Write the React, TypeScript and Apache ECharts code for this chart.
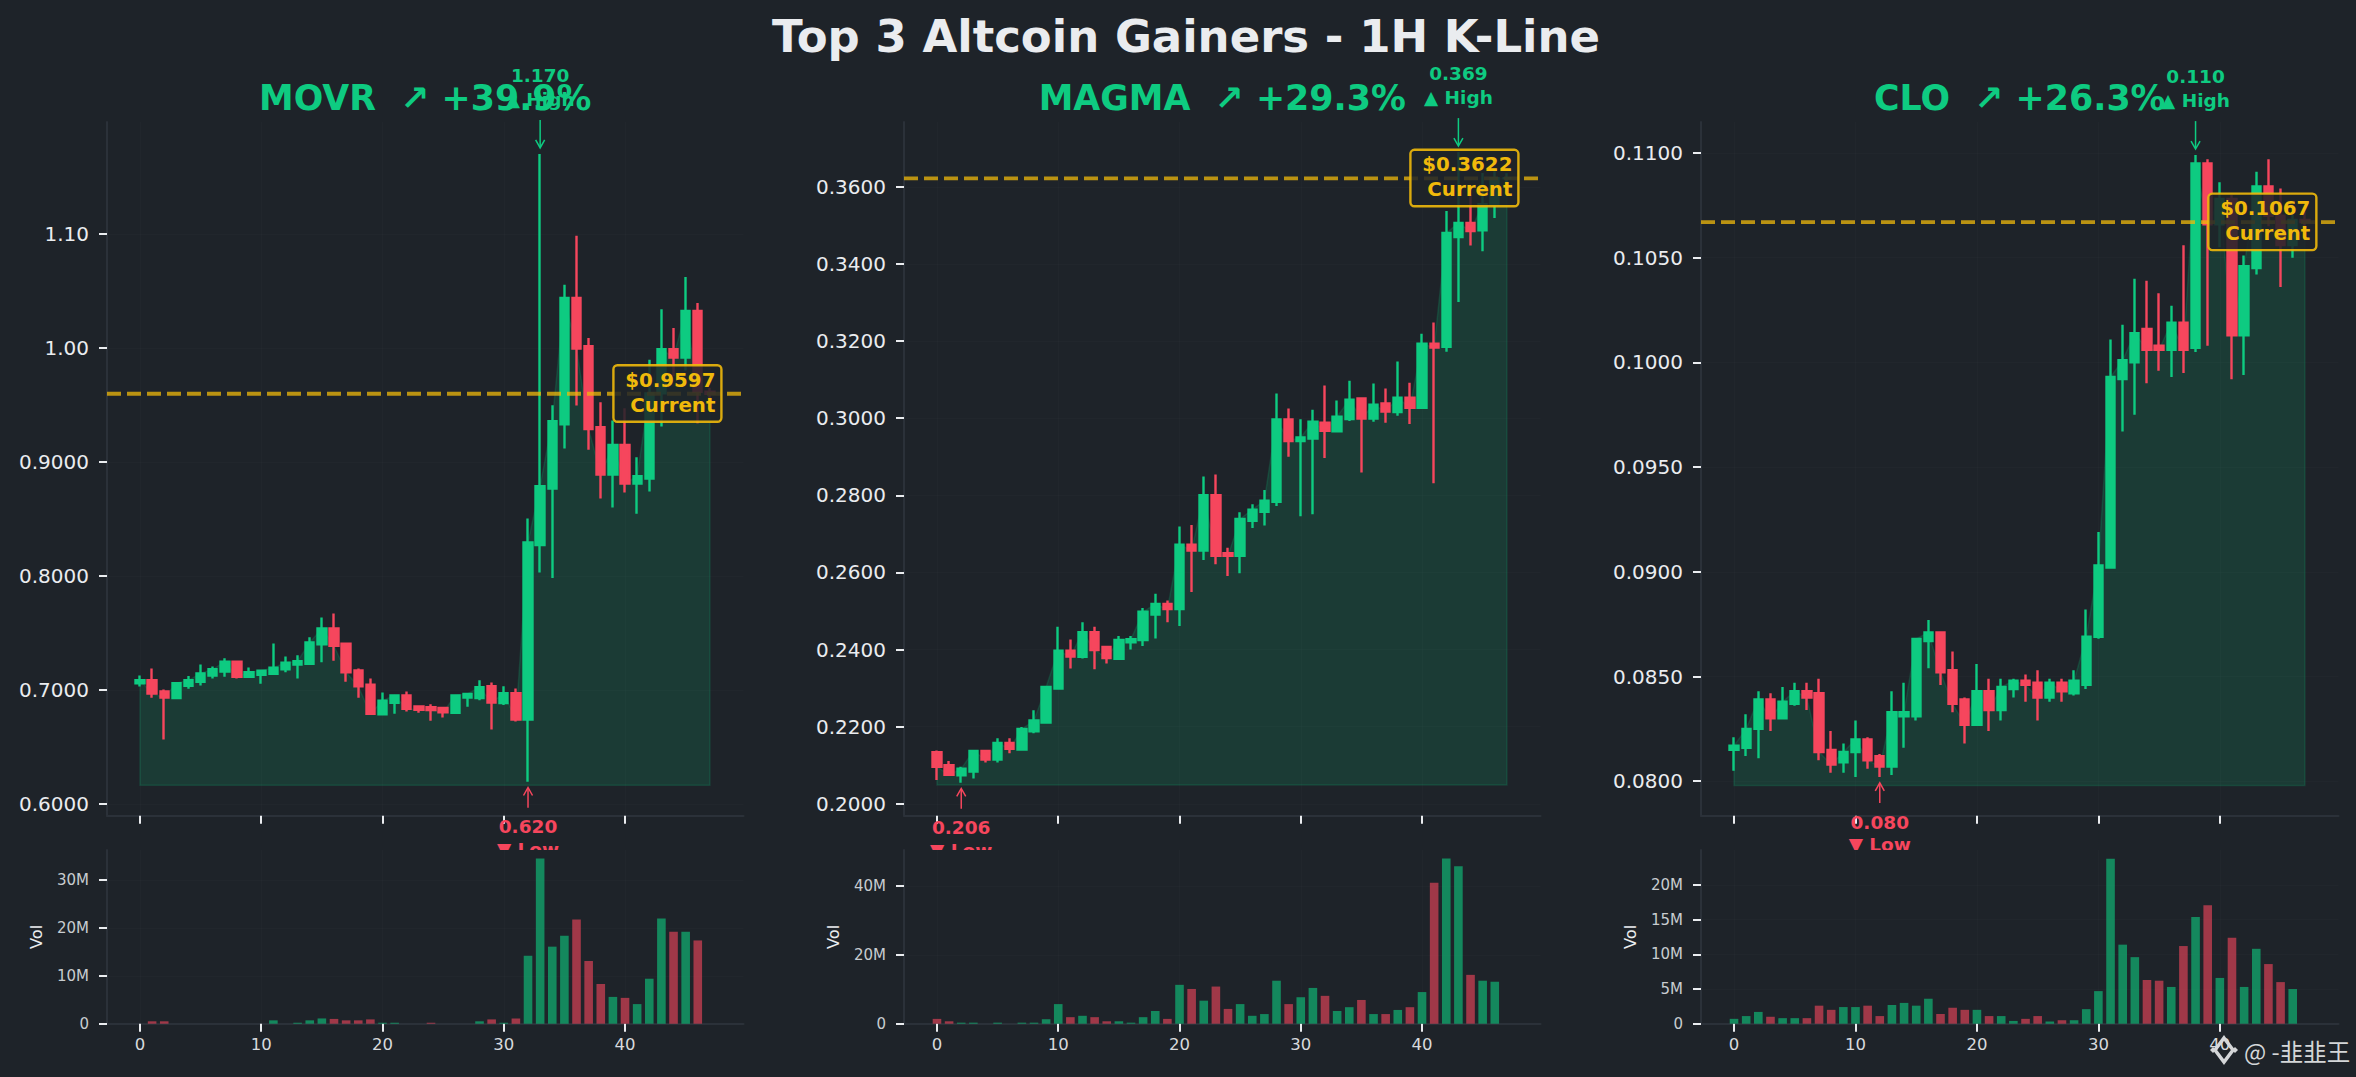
import React, { useEffect, useRef } from "react";
import * as echarts from "echarts";

const pageTitle = "Top 3 Altcoin Gainers - 1H K-Line";
const xTickValues = [0, 10, 20, 30, 40];

// [open, close, low, high]
const movrOhlc = [
  [.7058,.7084,.7029,.7126],[.7084,.6968,.6932,.7187],[.6987,.6932,.6565,.7003],[.6929,.7058,.692,.7065],
  [.7035,.7084,.701,.7123],[.7071,.7145,.7039,.7223],[.7126,.7181,.71,.7206],[.7161,.7248,.7116,.7277],
  [.7248,.7116,.71,.7248],[.7116,.7155,.7106,.7197],[.7132,.7168,.7055,.7174],[.7142,.7194,.7132,.7406],
  [.7181,.7239,.7155,.7294],[.7223,.7252,.71,.7303],[.7229,.7416,.7223,.7461],[.74,.7539,.7242,.7635],
  [.7539,.7387,.7255,.7671],[.7406,.7155,.7071,.7406],[.7171,.7032,.6932,.7187],[.7045,.679,.6784,.71],
  [.6787,.6906,.6781,.6977],[.6887,.6952,.679,.6952],[.6952,.6835,.681,.6987],[.6855,.6826,.68,.6861],
  [.6848,.6823,.6729,.6874],[.6842,.6803,.6758,.6848],[.68,.6952,.68,.6961],[.6932,.6965,.6852,.6971],
  [.6929,.7023,.691,.7084],[.7032,.689,.6652,.7065],[.6884,.6971,.6868,.7032],[.6971,.6739,.6723,.7013],
  [.6739,.8294,.6195,.8503],[.8271,.8787,.8029,1.17],[.8766,.9357,.7981,.9497],[.933,1.0436,.9117,1.0553],
  [1.0436,.9994,.9494,1.0982],[1.0015,.9287,.9105,1.0085],[.9304,.8889,.8678,.9523],[.8889,.9149,.86,.9363],
  [.9149,.881,.8731,.947],[.881,.8874,.8545,.9041],[.8854,.96,.874,.9895],[.96,.9988,.931,1.0339],
  [.9988,.9915,.975,1.0173],[.9915,1.0322,.98,1.062],[1.0322,.9615,.9339,1.0392],[.9615,.9597,.955,.965],
];
const movrVolume = [0,.5,.5,0,0,0,0,0,0,0,0,.7,0,.2,.7,1.1,1,.7,.7,.9,.2,.2,0,0,.2,0,0,0,.5,.9,.2,1.1,14.2,34.5,16.1,18.4,21.8,13.1,8.3,5.6,5.4,4.1,9.4,22,19.2,19.2,17.4];

const magmaOhlc = [
  [.2134,.2096,.2062,.2138],[.21,.2075,.2073,.2111],[.2074,.2091,.2055,.2096],[.2084,.2137,.2066,.2137],
  [.2137,.2115,.2107,.2137],[.2115,.2158,.2107,.217],[.2158,.2143,.2131,.217],[.2141,.2194,.2141,.2199],
  [.2188,.2216,.2183,.2243],[.2211,.2303,.2208,.2306],[.2299,.2397,.2299,.2459],[.2397,.2382,.2351,.2426],
  [.2381,.2445,.2377,.2471],[.2445,.2399,.2349,.2459],[.2407,.2378,.2364,.2407],[.2376,.2425,.2375,.2435],
  [.2419,.2427,.24,.2435],[.2425,.2498,.2409,.2508],[.2491,.2518,.2429,.2545],[.2518,.2505,.2471,.2527],
  [.2505,.2672,.2461,.2719],[.2672,.2657,.2549,.2723],[.2657,.28,.2632,.2849],[.28,.2643,.2621,.2854],
  [.265,.2643,.2591,.2664],[.2643,.2739,.2598,.2756],[.2734,.2763,.2715,.2777],[.2757,.2786,.2722,.2814],
  [.2783,.2997,.2772,.3064],[.2997,.2941,.29,.3025],[.2941,.295,.2746,.2997],[.2947,.2991,.2751,.3022],
  [.2988,.2967,.2897,.3085],[.2966,.3004,.2963,.3046],[.2998,.3048,.2993,.3097],[.3051,.2999,.2859,.3053],
  [.2999,.3035,.2991,.309],[.3038,.3017,.2988,.3077],[.3016,.3053,.3006,.3147],[.3053,.3027,.2985,.3092],
  [.3027,.3193,.3025,.3219],[.3193,.3183,.2831,.3248],[.3185,.348,.3172,.3537],[.347,.3506,.3301,.369],
  [.3506,.3485,.3448,.3578],[.3487,.3555,.3433,.3636],[.3555,.3622,.3519,.364],[.3622,.3622,.361,.3635],
];
const magmaVolume = [1.4,.7,.3,.3,0,.3,0,.3,.3,1.3,5.7,1.9,2.3,1.9,.7,.7,.3,1.9,3.7,1.4,11.3,10.1,6.7,10.8,4.3,5.7,2.3,2.8,12.5,5.7,7.7,10.4,8.1,3.7,4.8,6.9,2.8,2.8,4,4.8,9.2,41,48,45.8,14.2,12.5,12.2];

const cloOhlc = [
  [.0815,.0817,.0805,.0821],[.0816,.0825,.0812,.0832],[.0825,.0839,.0811,.0843],[.0839,.083,.0824,.0842],
  [.083,.0838,.083,.0845],[.0837,.0843,.0836,.0847],[.0843,.084,.0834,.0847],[.0842,.0814,.081,.0849],
  [.0815,.0808,.0804,.0824],[.0809,.0814,.0804,.0818],[.0814,.082,.0802,.0829],[.082,.081,.0806,.0821],
  [.0812,.0807,.0802,.0813],[.0807,.0833,.0803,.0843],[.0831,.0833,.0816,.0847],[.0831,.0868,.0829,.0868],
  [.0867,.0871,.0854,.0877],[.0871,.0852,.0846,.0871],[.0853,.0837,.0833,.0862],[.0839,.0827,.0818,.084],
  [.0827,.0843,.0827,.0856],[.0843,.0834,.0824,.0849],[.0834,.0845,.0829,.0849],[.0844,.0848,.084,.0849],
  [.0848,.0846,.0838,.0851],[.0847,.084,.0829,.0853],[.084,.0847,.0838,.0849],[.0847,.0843,.0838,.0849],
  [.0842,.0848,.0841,.0853],[.0846,.0869,.0844,.0882],[.0869,.0903,.0868,.0919],[.0902,.0993,.0902,.1011],
  [.0992,.1001,.0967,.1018],[.1,.1014,.0975,.104],[.1016,.1006,.099,.1039],[.1008,.1006,.0996,.1033],
  [.1006,.1019,.0993,.1027],[.1019,.1006,.0995,.1056],[.1007,.1095,.1005,.1099],[.1095,.1066,.1008,.1097],
  [.1066,.1078,.1055,.1086],[.1078,.1013,.0992,.108],[.1013,.1046,.0994,.1051],[.1045,.1084,.1042,.1091],
  [.1084,.107,.1065,.1097],[.107,.1056,.1036,.1083],[.1056,.1068,.105,.1075],[.1068,.1067,.1062,.1072],
];
const cloVolume = [.7,1.1,1.7,1,.8,.8,.8,2.6,2,2.4,2.4,2.6,1.1,2.7,3,2.6,3.6,1.4,2.3,2,2,1.1,1.1,.4,.7,1.1,.3,.5,.5,2.1,4.7,23.8,11.4,9.6,6.3,6.2,5.3,11.2,15.4,17.1,6.6,12.4,5.3,10.8,8.6,6,5];

const movrTicks = [0.6, 0.7, 0.8, 0.9, 1.0, 1.1];
const movrTickLabels = ["0.6000", "0.7000", "0.8000", "0.9000", "1.00", "1.10"];
const magmaTicks = [0.2, 0.22, 0.24, 0.26, 0.28, 0.3, 0.32, 0.34, 0.36];
const magmaTickLabels = ["0.2000", "0.2200", "0.2400", "0.2600", "0.2800", "0.3000", "0.3200", "0.3400", "0.3600"];
const cloTicks = [0.08, 0.085, 0.09, 0.095, 0.1, 0.105, 0.11];
const cloTickLabels = ["0.0800", "0.0850", "0.0900", "0.0950", "0.1000", "0.1050", "0.1100"];
const movrVolTicks = [0, 10, 20, 30];
const magmaVolTicks = [0, 20, 40];
const cloVolTicks = [0, 5, 10, 15, 20];

const panels = [
  { title: "MOVR  ↗ +39.9%", ohlc: movrOhlc, volume: movrVolume, ticks: movrTicks, tickLabels: movrTickLabels, volTicks: movrVolTicks,
    left: 107, right: 743.5, xMin: -2.72, xMax: 49.77, yMin: 0.5896, yMax: 1.198, volMax: 36.3,
    current: 0.9597, highX: 33, high: 1.17, highLabel: "1.170", lowX: 32, low: 0.6195, lowLabel: "0.620", base: 0.6164 },
  { title: "MAGMA  ↗ +29.3%", ohlc: magmaOhlc, volume: magmaVolume, ticks: magmaTicks, tickLabels: magmaTickLabels, volTicks: magmaVolTicks,
    left: 904, right: 1540.5, xMin: -2.72, xMax: 49.77, yMin: 0.1969, yMax: 0.3768, volMax: 50.5,
    current: 0.3622, highX: 43, high: 0.369, highLabel: "0.369", lowX: 2, low: 0.2055, lowLabel: "0.206", base: 0.2049 },
  { title: "CLO  ↗ +26.3%", ohlc: cloOhlc, volume: cloVolume, ticks: cloTicks, tickLabels: cloTickLabels, volTicks: cloVolTicks,
    left: 1701, right: 2338.5, xMin: -2.72, xMax: 49.77, yMin: 0.07835, yMax: 0.11148, volMax: 25.05,
    current: 0.1067, highX: 38, high: 0.1099, highLabel: "0.110", lowX: 12, low: 0.0802, lowLabel: "0.080", base: 0.0798 },
];

const GREEN = "#0ECB81";
const RED = "#F6465D";
const GOLD = "#F0B90B";
const BG = "#1E2329";
const SPINE = "#2B3139";
const FONT = '"DejaVu Sans"';
const MAIN_TOP = 122, MAIN_BOTTOM = 815.8, VOL_TOP = 850, VOL_BOTTOM = 1023.7;
const W = 2356, H = 1077;

function arrow(x: number, tipY: number, tailY: number, color: string) {
  const dir = tailY > tipY ? 1 : -1;
  return [
    { type: "line", shape: { x1: x, y1: tailY, x2: x, y2: tipY + dir }, style: { stroke: color, lineWidth: 1.5 } },
    { type: "polyline", shape: { points: [[x - 4.5, tipY + dir * 8], [x, tipY], [x + 4.5, tipY + dir * 8]] }, style: { stroke: color, lineWidth: 1.5, fill: "none" } },
  ];
}
// baseline is the y of the text's foot: the glyph centre sits a little above it
function label(x: number, baseline: number, text: string, color: string, align = "center", size = 18.5) {
  return { type: "text", style: { x, y: baseline - size * 0.365, text, fill: color, font: `bold ${size}px ${FONT}`, align, verticalAlign: "middle" } };
}

function buildOption() {
  const grid: any[] = [], xAxis: any[] = [], yAxis: any[] = [], series: any[] = [], title: any[] = [];
  title.push({ text: pageTitle, left: 1186, top: 14, padding: 0, textAlign: "center", textStyle: { color: "#EAECEF", fontFamily: FONT, fontWeight: "bold", fontSize: 45 } });
  const axisLine = { show: true, onZero: false, lineStyle: { color: SPINE, width: 2 } };
  const tickStyle = { color: "#EAECEF", width: 2 };
  const split = { show: true, lineStyle: { color: "rgba(255,255,255,0.015)", width: 1 } };
  panels.forEach((p, k) => {
    const m = k * 2, v = k * 2 + 1;
    const rightGap = W - p.right;
    grid.push({ left: p.left, right: rightGap, top: MAIN_TOP, height: MAIN_BOTTOM - MAIN_TOP });
    grid.push({ left: p.left, right: rightGap, top: VOL_TOP, height: VOL_BOTTOM - VOL_TOP });
    title.push({ text: p.title, left: (p.left + p.right) / 2, top: 80, padding: 0, textAlign: "center", textStyle: { color: GREEN, fontFamily: FONT, fontWeight: "bold", fontSize: 34.8 } });
    xAxis.push({ type: "value", gridIndex: m, min: p.xMin, max: p.xMax, axisLine,
      axisTick: { show: true, length: 8, lineStyle: tickStyle, customValues: xTickValues },
      axisLabel: { show: false, customValues: xTickValues }, splitLine: split });
    xAxis.push({ type: "value", gridIndex: v, min: p.xMin, max: p.xMax, axisLine,
      axisTick: { show: true, length: 8, lineStyle: tickStyle, customValues: xTickValues },
      axisLabel: { show: true, customValues: xTickValues, color: "#D8DADD", fontFamily: FONT, fontSize: 16.5, margin: 12 }, splitLine: split });
    yAxis.push({ type: "value", gridIndex: m, min: p.yMin, max: p.yMax, axisLine,
      axisTick: { show: true, length: 8, lineStyle: tickStyle, customValues: p.ticks },
      axisLabel: { show: true, customValues: p.ticks, color: "#EAECEF", fontFamily: FONT, fontSize: 20, margin: 18,
        formatter: (val: number) => { const i = p.ticks.findIndex((t) => Math.abs(t - val) < 1e-6); return i >= 0 ? p.tickLabels[i] : ""; } },
      splitLine: split });
    yAxis.push({ type: "value", gridIndex: v, min: 0, max: p.volMax, axisLine,
      name: "Vol", nameLocation: "middle", nameGap: 63, nameRotate: 90, nameTextStyle: { color: "#EAECEF", fontFamily: FONT, fontSize: 16.4 },
      axisTick: { show: true, length: 8, lineStyle: tickStyle, customValues: p.volTicks },
      axisLabel: { show: true, customValues: p.volTicks, color: "#C8CCD0", fontFamily: FONT, fontSize: 15, margin: 18,
        formatter: (val: number) => (val === 0 ? "0" : `${val}M`) },
      splitLine: split });

    const closes = p.ohlc.map((c) => c[1]);
    series.push({ type: "custom", name: `${p.title} area`, xAxisIndex: m, yAxisIndex: m, z: 1, silent: true, data: [[0, p.base]],
      renderItem: (_: any, api: any) => {
        const last = closes.length - 1;
        const pts = closes.map((c, i) => api.coord([i, c]));
        pts.push(api.coord([last, p.base]), api.coord([0, p.base]));
        return { type: "polygon", shape: { points: pts }, style: { fill: "rgba(14,203,129,0.15)", stroke: "rgba(14,203,129,0.16)", lineWidth: 1.5 } };
      } });
    series.push({ type: "candlestick", name: p.title, xAxisIndex: m, yAxisIndex: m, z: 2, barWidth: 8.8, silent: true,
      dimensions: ["x", "open", "close", "low", "high"], encode: { x: "x", y: ["open", "close", "low", "high"] },
      itemStyle: { color: GREEN, color0: RED, borderColor: GREEN, borderColor0: RED, borderColorDoji: GREEN, borderWidth: 2.4 },
      data: p.ohlc.map((c, i) => [i, c[0], c[1], c[2], c[3]]) });
    series.push({ type: "bar", name: `${p.title} volume`, xAxisIndex: v, yAxisIndex: v, z: 2, barWidth: 8.6, silent: true,
      data: p.volume.map((val, i) => ({ value: [i, val], itemStyle: { color: p.ohlc[i][1] >= p.ohlc[i][0] ? GREEN : RED, opacity: 0.6 } })) });
    // current price line and tag
    series.push({ type: "custom", name: `${p.title} current`, xAxisIndex: m, yAxisIndex: m, z: 3, silent: true, data: [[p.ohlc.length - 1, p.current]],
      renderItem: (_: any, api: any) => {
        const [x, y] = api.coord([api.value(0), api.value(1)]);
        const priceText = `$${p.current.toFixed(4)}`;
        return { type: "group", children: [
          { type: "line", shape: { x1: p.left, y1: y, x2: p.right, y2: y }, style: { stroke: "rgba(240,185,11,0.75)", lineWidth: 3.8, lineDash: [14, 6] } },
          { type: "rect", shape: { x: x - 96.5, y: y - 28.5, width: 108, height: 56.5, r: 4 }, style: { fill: "rgba(30,35,41,0.86)", stroke: "rgba(240,185,11,0.9)", lineWidth: 2.4 } },
          label(x + 5.5, y - 6.5, priceText, GOLD, "right", 19.8),
          label(x + 5.5, y + 18.5, "Current", GOLD, "right", 19.8),
        ] };
      } });
    // high annotation
    series.push({ type: "custom", name: `${p.title} high`, xAxisIndex: m, yAxisIndex: m, z: 7, silent: true, data: [[p.highX, p.high]],
      renderItem: (_: any, api: any) => {
        const [x, y] = api.coord([api.value(0), api.value(1)]);
        return { type: "group", children: [
          ...arrow(x, y - 6, y - 34, GREEN),
          label(x, y - 72, p.highLabel, GREEN),
          label(x, y - 48, "▲ High", GREEN),
        ] };
      } });
    // low annotation, cut at the top of the volume panel
    series.push({ type: "custom", name: `${p.title} low`, xAxisIndex: m, yAxisIndex: m, z: 7, silent: true, data: [[p.lowX, p.low]],
      renderItem: (_: any, api: any) => {
        const [x, y] = api.coord([api.value(0), api.value(1)]);
        return { type: "group", clipPath: { type: "rect", shape: { x: x - 200, y: 0, width: 400, height: VOL_TOP } }, children: [
          ...arrow(x, y + 5.8, y + 26, RED),
          label(x, y + 52, p.lowLabel, RED),
          label(x, y + 74.5, "▼ Low", RED),
        ] };
      } });
  });

  const wm = "#D4D6D8";
  const graphic = { elements: [
    { type: "group", z: 100, children: [
      { type: "polygon", shape: { points: [[2224, 1038], [2233, 1050], [2224, 1062], [2215, 1050]] }, style: { fill: "rgba(30,35,41,0.2)", stroke: wm, lineWidth: 3.5 } },
      { type: "polygon", shape: { points: [[2213, 1047], [2216, 1050], [2213, 1053], [2210, 1050]] }, style: { fill: wm } },
      { type: "polygon", shape: { points: [[2235, 1047], [2238, 1050], [2235, 1053], [2232, 1050]] }, style: { fill: wm } },
    ] },
    { type: "text", z: 100, style: { x: 2244, y: 1051, text: "@ -韭韭王", fill: wm, font: '23.5px "Noto Sans CJK SC"', align: "left", verticalAlign: "middle" } },
  ] };
  return { backgroundColor: BG, animation: false, title, grid, xAxis, yAxis, series, graphic };
}

export default function App() {
  const ref = useRef<HTMLDivElement | null>(null);
  useEffect(() => {
    document.body.style.margin = "0";
    document.body.style.background = BG;
    const chart = echarts.init(ref.current!, undefined, { renderer: "svg", width: W, height: H });
    chart.setOption(buildOption() as any);
    return () => chart.dispose();
  }, []);
  return <div ref={ref} style={{ width: W, height: H }} />;
}
